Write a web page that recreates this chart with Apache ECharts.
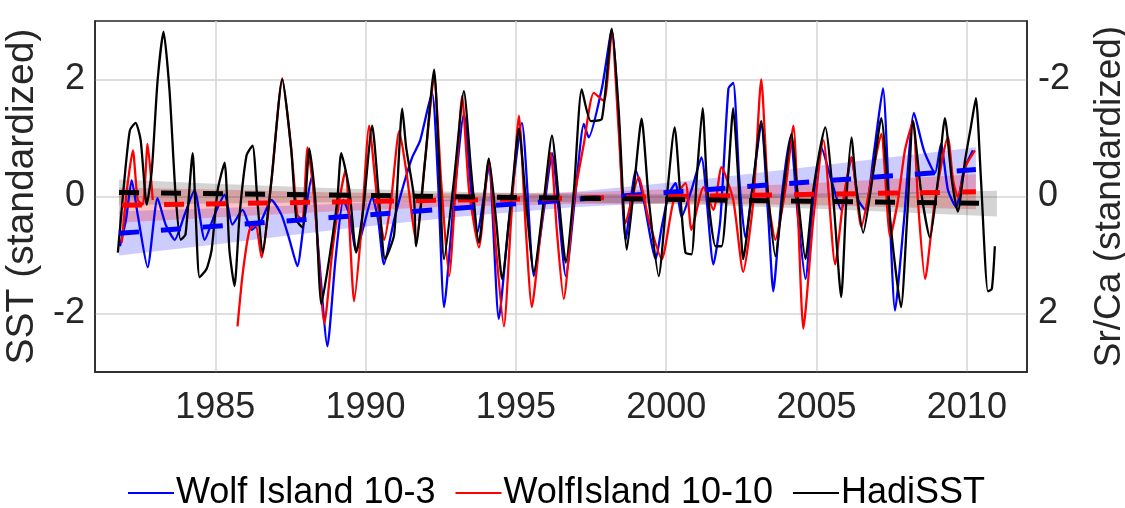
<!DOCTYPE html>
<html>
<head>
<meta charset="utf-8">
<script src="https://cdn.jsdelivr.net/npm/echarts@6/dist/echarts.min.js"></script>
<style>
html, body { margin: 0; padding: 0; background: #fff; }
#main { width: 1125px; height: 508px; }
</style>
</head>
<body>
<div id="main"></div>
<script>
// series: [year, standardized value]
var wolf103 = [[1981.83,-0.85],[1982.03,-0.40],[1982.22,0.28],[1982.42,-0.31],[1982.75,-1.21],[1983.08,-0.03],[1983.35,-0.48],[1983.65,-0.74],[1983.98,-0.31],[1984.31,0.11],[1984.65,-0.74],[1984.98,-0.31],[1985.31,0.03],[1985.57,-0.48],[1985.91,-0.23],[1986.21,-0.57],[1986.54,-0.40],[1986.87,-0.06],[1987.20,-0.31],[1987.47,-0.74],[1987.73,-1.19],[1987.96,-0.40],[1988.20,0.33],[1988.43,-0.91],[1988.73,-2.56],[1989.00,-1.07],[1989.26,-0.06],[1989.46,-0.31],[1989.69,-0.94],[1989.95,-0.48],[1990.22,-0.01],[1990.42,-0.40],[1990.61,-1.16],[1990.95,-0.40],[1991.28,0.23],[1991.55,0.67],[1991.81,0.95],[1992.21,1.77],[1992.41,0.28],[1992.61,-1.89],[1992.94,-0.06],[1993.27,1.41],[1993.51,0.11],[1993.71,-0.62],[1994.10,0.50],[1994.43,-2.09],[1994.77,-0.40],[1995.20,1.26],[1995.60,-1.36],[1995.93,-0.23],[1996.20,0.74],[1996.66,-1.36],[1996.99,0.11],[1997.26,1.24],[1997.42,1.01],[1997.86,1.85],[1998.19,2.85],[1998.42,1.29],[1998.65,-0.74],[1998.99,0.45],[1999.25,-0.06],[1999.65,-1.07],[1999.85,-0.52],[2000.08,0.03],[2000.31,0.23],[2000.51,-0.35],[2000.84,0.11],[2001.17,0.67],[2001.57,-1.16],[2001.80,-0.40],[2002.07,1.85],[2002.23,1.94],[2002.43,0.28],[2002.63,-0.70],[2002.90,0.28],[2003.16,1.24],[2003.40,-0.40],[2003.56,-1.62],[2003.83,-0.06],[2004.13,1.01],[2004.39,-0.40],[2004.63,-1.41],[2004.89,-0.06],[2005.16,0.84],[2005.49,0.28],[2005.82,-0.23],[2006.16,0.67],[2006.39,-0.06],[2006.62,-0.23],[2006.92,0.79],[2007.21,1.85],[2007.41,-0.06],[2007.61,-1.95],[2007.91,-0.40],[2008.24,1.43],[2008.57,0.79],[2008.94,0.40],[2009.14,0.90],[2009.37,0.11],[2009.64,-0.18],[2009.90,0.45],[2010.20,0.79]];

var wolf1010 = [[1981.89,-0.79],[1982.06,0.11],[1982.26,0.79],[1982.42,-0.06],[1982.59,-0.14],[1982.75,0.90],[1982.92,-0.06],[1984.00,null],[1985.74,-2.22],[1985.91,-1.33],[1986.14,-0.57],[1986.34,-0.48],[1986.54,-1.04],[1986.87,0.28],[1987.23,2.02],[1987.53,0.79],[1987.73,-0.31],[1987.90,-0.40],[1988.07,0.84],[1988.30,-0.06],[1988.63,-2.17],[1988.90,-0.91],[1989.13,-0.06],[1989.33,0.45],[1989.62,-1.79],[1989.86,-0.57],[1990.12,1.21],[1990.39,-0.06],[1990.62,-0.74],[1990.85,-0.06],[1991.12,1.12],[1991.35,0.45],[1991.68,-0.74],[1991.98,0.62],[1992.28,2.06],[1992.51,0.28],[1992.78,-1.36],[1993.01,0.28],[1993.21,1.72],[1993.44,0.11],[1993.77,-0.87],[1994.10,0.62],[1994.34,-0.91],[1994.60,-2.22],[1994.84,-0.40],[1995.10,1.38],[1995.33,-0.57],[1995.53,-1.89],[1995.83,-0.57],[1996.16,0.74],[1996.36,-0.57],[1996.59,-1.75],[1996.93,-0.06],[1997.26,0.90],[1997.59,1.77],[1997.93,1.63],[1998.19,2.82],[1998.42,1.12],[1998.65,-0.45],[1999.08,0.33],[1999.42,-0.40],[1999.85,-1.07],[2000.25,-0.06],[2000.64,0.23],[2000.84,-0.57],[2001.24,0.16],[2001.57,-0.23],[2001.84,0.50],[2002.23,-0.06],[2002.56,-1.29],[2002.90,-0.06],[2003.16,2.00],[2003.40,-0.06],[2003.63,-0.74],[2003.96,0.11],[2004.23,1.21],[2004.39,-0.40],[2004.56,-2.26],[2004.89,-0.40],[2005.23,0.96],[2005.62,-1.16],[2005.89,-0.06],[2006.16,0.67],[2006.49,-0.52],[2006.82,0.28],[2007.15,1.07],[2007.45,-0.69],[2007.71,-0.06],[2007.94,0.79],[2008.21,1.29],[2008.37,-0.06],[2008.61,-1.41],[2008.94,-0.06],[2009.37,1.01],[2009.54,0.28],[2009.70,-0.01],[2009.97,0.53],[2010.27,0.79]];

var hadisst = [[1981.76,-0.96],[1981.96,0.19],[1982.16,1.13],[1982.35,1.26],[1982.52,0.96],[1982.72,-0.14],[1982.89,0.45],[1983.08,1.97],[1983.28,2.82],[1983.48,1.80],[1983.68,0.03],[1983.85,-0.74],[1984.01,-0.65],[1984.25,0.74],[1984.35,-0.31],[1984.48,-1.38],[1984.71,-1.24],[1984.88,-0.91],[1985.08,0.11],[1985.31,0.58],[1985.47,-0.91],[1985.64,-1.53],[1985.81,-0.31],[1986.04,0.70],[1986.24,0.87],[1986.40,-0.06],[1986.57,-0.96],[1986.87,0.28],[1987.23,2.00],[1987.53,0.79],[1987.70,-0.40],[1987.90,-0.53],[1988.13,0.82],[1988.33,-0.06],[1988.53,-1.84],[1988.79,-1.07],[1989.06,-0.06],[1989.19,0.74],[1989.46,0.11],[1989.69,-0.96],[1989.92,-0.23],[1990.22,1.21],[1990.45,-0.06],[1990.65,-1.07],[1990.95,-0.65],[1991.22,1.50],[1991.35,0.84],[1991.61,-0.01],[1991.68,-0.85],[1991.98,0.62],[1992.28,2.17],[1992.44,0.62],[1992.61,-1.07],[1992.94,0.28],[1993.27,1.80],[1993.51,0.45],[1993.77,-0.79],[1994.10,0.65],[1994.34,-0.40],[1994.54,-1.41],[1994.84,-0.06],[1995.10,1.16],[1995.33,-0.06],[1995.60,-1.29],[1995.93,-0.06],[1996.20,1.04],[1996.43,-0.06],[1996.66,-1.13],[1996.93,0.11],[1997.19,1.83],[1997.49,1.29],[1997.86,1.33],[1998.19,2.87],[1998.42,1.46],[1998.69,-0.91],[1998.95,0.28],[1999.18,1.33],[1999.42,-0.06],[1999.75,-1.36],[2000.01,-0.06],[2000.28,1.18],[2000.48,-0.06],[2000.64,-0.96],[2000.84,-0.99],[2001.01,0.28],[2001.21,1.51],[2001.37,0.11],[2001.64,-0.85],[2001.84,-0.85],[2002.03,0.11],[2002.23,1.51],[2002.40,0.28],[2002.56,-1.07],[2002.86,0.11],[2003.16,1.29],[2003.40,-0.06],[2003.63,-1.02],[2003.90,0.11],[2004.16,1.07],[2004.39,-0.06],[2004.63,-1.07],[2004.89,0.11],[2005.29,1.18],[2005.56,-0.06],[2005.82,-1.72],[2005.99,-0.06],[2006.16,1.01],[2006.33,0.11],[2006.55,-0.62],[2006.85,0.28],[2007.15,1.34],[2007.48,-0.57],[2007.81,-1.89],[2008.01,-0.40],[2008.21,1.29],[2008.47,0.11],[2008.77,-0.70],[2009.04,0.28],[2009.27,1.34],[2009.50,0.28],[2009.70,-0.26],[2009.94,0.62],[2010.14,1.21],[2010.30,1.68],[2010.47,0.28],[2010.70,-1.62],[2010.83,-1.58],[2010.93,-0.85]];

// linear trends (end points)
var trendWolf103 = [[1981.8,-0.63],[2010.3,0.46]];
var trendWolf1010 = [[1981.9,-0.15],[2010.3,0.08]];
var trendHadisst = [[1981.8,0.07],[2010.9,-0.12]];

// confidence bands around the trends
var bandYears = [1981.8, 1985, 1989, 1993, 1997, 2001, 2005, 2010.3];
var bandYearsHad = [1981.8, 1985, 1989, 1993, 1997, 2001, 2005, 2011];
var blueLo = [-1.01, -0.82, -0.57, -0.35, -0.18, -0.08, 0.00, 0.08];
var blueHi = [-0.25, -0.20, -0.13, -0.05, 0.08, 0.28, 0.52, 0.84];
var redLo = [-0.45, -0.36, -0.25, -0.17, -0.13, -0.12, -0.15, -0.22];
var redHi = [0.15, 0.12, 0.07, 0.05, 0.07, 0.14, 0.23, 0.38];
var grayLo = [-0.15, -0.12, -0.10, -0.08, -0.10, -0.14, -0.21, -0.34];
var grayHi = [0.29, 0.22, 0.14, 0.08, 0.04, 0.04, 0.05, 0.10];

var names = ['Wolf Island 10-3', 'WolfIsland 10-10', 'HadiSST'];

var FONT = "'Liberation Sans', Arial, sans-serif";
var INK = '#262626';

// shaded band as a polygon placed through the axes
function band(years, lo, hi, color) {
    return {
        type: 'custom', silent: true, z: 1, clip: true,
        data: [[years[0], lo[0]]],
        renderItem: function (params, api) {
            var pts = [];
            for (var i = 0; i < years.length; i++) pts.push(api.coord([years[i], hi[i]]));
            for (var j = years.length - 1; j >= 0; j--) pts.push(api.coord([years[j], lo[j]]));
            return { type: 'polygon', shape: { points: pts }, style: { fill: color } };
        }
    };
}

function trend(data, color) {
    return {
        type: 'line', data: data, showSymbol: false, silent: true, z: 5,
        lineStyle: { color: color, width: 5, type: [20, 22] }
    };
}

function series(name, data, color, z) {
    return {
        name: name, type: 'line', data: data, showSymbol: false, z: z,
        connectNulls: false, smooth: 0.2,
        color: color, lineStyle: { color: color, width: 2.3 }
    };
}

var myChart = echarts.init(document.getElementById('main'));

myChart.setOption({
    animation: false,
    grid: {
        left: 95, right: 98, top: 21, bottom: 136, containLabel: false, outerBoundsMode: 'none',
        show: true, borderColor: INK, borderWidth: 1.5
    },
    legend: {
        data: names, top: 470, left: 123, icon: 'rect',
        itemWidth: 46, itemHeight: 2, itemGap: 20,
        textStyle: { fontFamily: FONT, fontSize: 36, color: '#000', padding: [0, 0, 0, -3] }
    },
    xAxis: {
        type: 'value', min: 1981, max: 2012, interval: 1,
        axisLine: { show: true, onZero: false, lineStyle: { color: INK, width: 1.5 } },
        axisTick: { show: false },
        axisLabel: {
            margin: 18, fontFamily: FONT, fontSize: 36, color: INK,
            showMinLabel: false, showMaxLabel: false,
            formatter: function (v) { return v % 5 === 0 ? String(v) : ''; }
        },
        splitLine: {
            show: true, showMinLine: true, showMaxLine: true,
            lineStyle: { color: ['rgba(0,0,0,0)', 'rgba(0,0,0,0)', 'rgba(0,0,0,0)', 'rgba(0,0,0,0)', '#d4d4d4'], width: 1.5 }
        }
    },
    yAxis: [{
        type: 'value', min: -3, max: 3, interval: 1,
        name: 'SST (standardized)', nameLocation: 'middle', nameRotate: 90, nameGap: 52,
        nameTextStyle: { fontFamily: FONT, fontSize: 39, color: INK },
        axisLine: { show: true, onZero: false, lineStyle: { color: INK, width: 1.5 } },
        axisTick: { show: false },
        axisLabel: {
            margin: 10, fontFamily: FONT, fontSize: 36, color: INK,
            formatter: function (v) { return v % 2 === 0 ? String(v) : ''; }
        },
        splitLine: {
            show: true, showMinLine: true, showMaxLine: true,
            lineStyle: { color: ['rgba(0,0,0,0)', '#d4d4d4'], width: 1.5 }
        }
    }, {
        type: 'value', min: -3, max: 3, interval: 1, inverse: true, position: 'right',
        name: 'Sr/Ca (standardized)', nameLocation: 'middle', nameRotate: 90, nameGap: 64,
        nameTextStyle: { fontFamily: FONT, fontSize: 37, color: INK },
        axisLine: { show: true, onZero: false, lineStyle: { color: INK, width: 1.5 } },
        axisTick: { show: false },
        axisLabel: {
            margin: 11, fontFamily: FONT, fontSize: 36, color: INK,
            formatter: function (v) { return v % 2 === 0 ? String(v) : ''; }
        },
        splitLine: { show: false }
    }],
    series: [
        band(bandYears, blueLo, blueHi, 'rgba(0,0,255,0.2)'),
        band(bandYears, redLo, redHi, 'rgba(255,0,0,0.24)'),
        band(bandYearsHad, grayLo, grayHi, 'rgba(0,0,0,0.17)'),
        series(names[0], wolf103, '#0000ff', 2),
        series(names[1], wolf1010, '#ff0000', 3),
        series(names[2], hadisst, '#000000', 4),
        trend(trendWolf103, '#0000ff'),
        trend(trendWolf1010, '#ff0000'),
        trend(trendHadisst, '#000000')
    ]
});
</script>
</body>
</html>
